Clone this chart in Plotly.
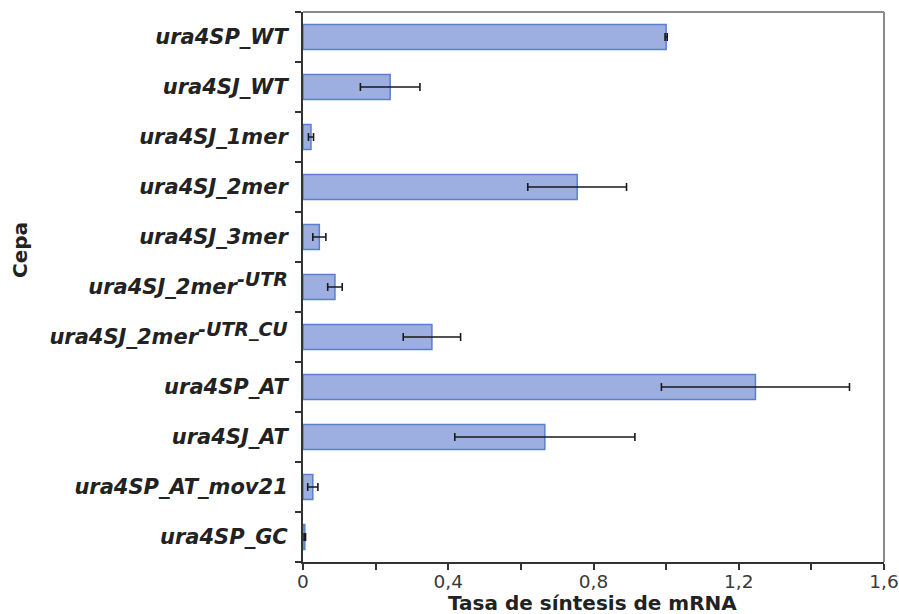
import plotly.graph_objects as go

# Strains, top to bottom
strains = [
    "ura4SP_WT", "ura4SJ_WT", "ura4SJ_1mer", "ura4SJ_2mer", "ura4SJ_3mer",
    "ura4SJ_2mer-UTR", "ura4SJ_2mer-UTR_CU",
    "ura4SP_AT", "ura4SJ_AT", "ura4SP_AT_mov21", "ura4SP_GC",
]
# Tick text for each strain (the -UTR suffixes are written as superscripts)
strain_labels = [
    "ura4SP_WT", "ura4SJ_WT", "ura4SJ_1mer", "ura4SJ_2mer", "ura4SJ_3mer",
    "ura4SJ_2mer<sup><span style='font-size:19px'>-UTR</span></sup>",
    "ura4SJ_2mer<sup><span style='font-size:19px'>-UTR_CU</span></sup>",
    "ura4SP_AT", "ura4SJ_AT", "ura4SP_AT_mov21", "ura4SP_GC",
]
# mRNA synthesis rate and its error
rate = [1.0, 0.24, 0.022, 0.755, 0.045, 0.088, 0.355, 1.246, 0.666, 0.027, 0.005]
err = [0.003, 0.082, 0.007, 0.136, 0.018, 0.02, 0.079, 0.259, 0.248, 0.014, 0.002]

x_ticks = [0, 0.4, 0.8, 1.2, 1.6]
x_tick_text = ["0", "0,4", "0,8", "1,2", "1,6"]

W, H = 899, 614
L, R, T, B = 303, 15, 12, 52

fig = go.Figure(
    go.Bar(
        y=strains,
        x=rate,
        orientation="h",
        marker=dict(color="#9cafe0", line=dict(color="#5a7fcf", width=1.5)),
        error_x=dict(type="data", array=err, color="#1a1a1a", thickness=1.6, width=4),
        width=0.5,
    )
)

fig.update_layout(
    width=W,
    height=H,
    margin=dict(l=L, r=R, t=T, b=B, autoexpand=False),
    plot_bgcolor="white",
    paper_bgcolor="white",
    showlegend=False,
    font=dict(family="DejaVu Sans", color="#222"),
    xaxis=dict(
        range=[0, 1.6],
        tickvals=x_ticks,
        ticktext=x_tick_text,
        ticks="outside",
        ticklen=6,
        tickwidth=1.5,
        tickcolor="#333",
        minor=dict(dtick=0.2, ticks="outside", ticklen=6, tickwidth=1.5, tickcolor="#333"),
        showgrid=False,
        zeroline=False,
        showline=True,
        linecolor="#333",
        linewidth=2,
        tickfont=dict(size=18.5, color="#3a3a3a"),
        ticklabelstandoff=-4,
        automargin=False,
    ),
    yaxis=dict(
        autorange="reversed",
        ticks="outside",
        tickson="boundaries",
        ticklen=6,
        tickwidth=1.5,
        tickcolor="#333",
        showgrid=False,
        showline=True,
        linecolor="#333",
        linewidth=2,
        tickfont=dict(size=21, color="#222"),
        ticklabelstandoff=9,
        tickvals=strains,
        ticktext=["<b><i>" + s + "</i></b>" for s in strain_labels],
        automargin=False,
    ),
    shapes=[
        dict(type="line", xref="paper", yref="paper", x0=0, x1=1, y0=1, y1=1,
             line=dict(color="#8a8a8a", width=2)),
        dict(type="line", xref="paper", yref="paper", x0=1, x1=1, y0=0, y1=1,
             line=dict(color="#8a8a8a", width=2)),
    ],
)

# Axis titles placed as annotations in paper coordinates
plot_w = W - L - R
plot_h = H - T - B


def px_to_paper_x(px):
    return (px - L) / plot_w


def px_to_paper_y(py):
    return (H - B - py) / plot_h


fig.add_annotation(
    text="<b>Tasa de síntesis de mRNA</b>",
    xref="paper", yref="paper",
    x=px_to_paper_x(592), y=px_to_paper_y(603),
    xanchor="center", yanchor="middle",
    showarrow=False,
    font=dict(size=20, color="#222"),
)
fig.add_annotation(
    text="<b>Cepa</b>",
    xref="paper", yref="paper",
    x=px_to_paper_x(20), y=px_to_paper_y(250),
    xanchor="center", yanchor="middle",
    textangle=-90,
    showarrow=False,
    font=dict(size=20, color="#222"),
)

fig.write_html("out.html")
